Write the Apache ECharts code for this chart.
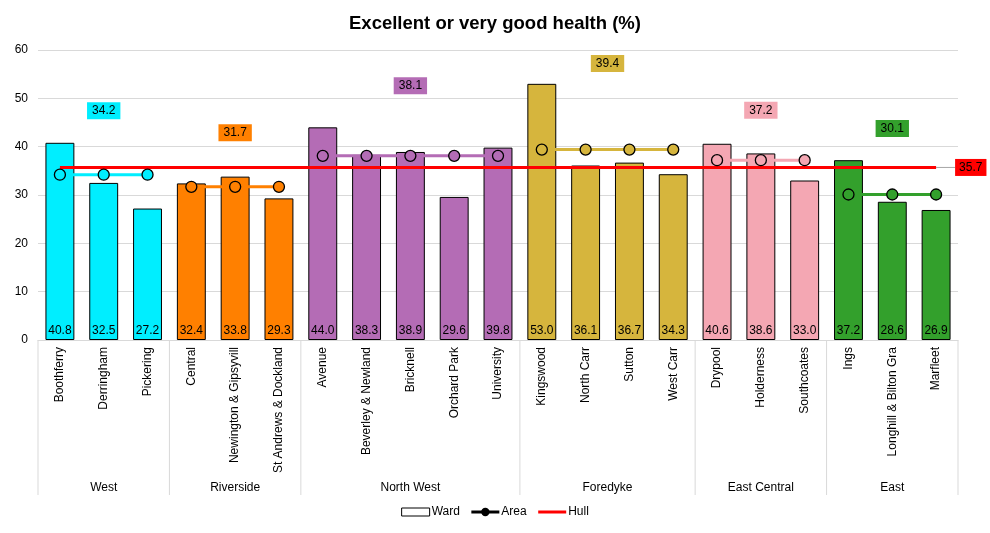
<!DOCTYPE html>
<html>
<head>
<meta charset="utf-8">
<script src="https://cdn.jsdelivr.net/npm/echarts@6/dist/echarts.min.js"></script>
<style>html,body{margin:0;padding:0;background:#fff}#c{width:990px;height:533px}</style>
</head>
<body>
<div id="c"></div>
<script>
// ---- data ----
var wards = ['Boothferry','Derringham','Pickering','Central','Newington & Gipsyvill','St Andrews & Dockland','Avenue','Beverley & Newland','Bricknell','Orchard Park','University','Kingswood','North Carr','Sutton','West Carr','Drypool','Holderness','Southcoates','Ings','Longhill & Bilton Gra','Marfleet'];
var wardValues = [40.8,32.5,27.2,32.4,33.8,29.3,44.0,38.3,38.9,29.6,39.8,53.0,36.1,36.7,34.3,40.6,38.6,33.0,37.2,28.6,26.9];
var areas = ['West','Riverside','North West','Foredyke','East Central','East'];
var areaSizes = [3,3,5,4,3,3];
var areaValues = [34.2,31.7,38.1,39.4,37.2,30.1];
var hullValue = 35.7;
var yTicks = [0,10,20,30,40,50,60];

// ---- styles ----
var areaColors = ['#00EEFF','#FF8000','#B46CB5','#D6B53D','#F4A7B3','#33A02C'];
var areaLabelDy = [-64,-54,-70,-86,-50,-66];
var FONT = '"Liberation Sans", Arial, sans-serif';

var areaStart = [];
(function(){ var s = 0; for (var i = 0; i < areaSizes.length; i++) { areaStart.push(s); s += areaSizes[i]; } })();
var wardArea = [];
areaSizes.forEach(function(n, a){ for (var k = 0; k < n; k++) wardArea.push(a); });

var series = [];
series.push({
  name: 'Ward', type: 'bar', barWidth: '66%', z: 2,
  itemStyle: { color: '#fff', borderColor: '#000', borderWidth: 1 },
  label: { show: true, position: 'insideBottom', distance: 3, color: '#000', fontSize: 12, fontFamily: FONT,
           formatter: function(p){ return p.value.toFixed(1); } },
  data: wardValues.map(function(v, i){ return { value: v, itemStyle: { color: areaColors[wardArea[i]] } }; }),
  animation: false
});
series.push({
  name: 'Hull', type: 'line', z: 4, symbol: 'none',
  lineStyle: { color: '#FF0000', width: 3 }, itemStyle: { color: '#FF0000' },
  data: wards.map(function(){ return hullValue; }),
  endLabel: { show: true, distance: 19, formatter: function(){ return hullValue.toFixed(1); },
              backgroundColor: '#FF0000', color: '#000', fontSize: 12, fontFamily: FONT, padding: [3, 4, 2, 4] },
  animation: false
});
areas.forEach(function(a, ai){
  var d = wards.map(function(w, i){ return wardArea[i] === ai ? areaValues[ai] : null; });
  series.push({
    name: 'Area', type: 'line', z: 5, symbol: 'circle', symbolSize: 11,
    lineStyle: { color: areaColors[ai], width: 3 },
    itemStyle: { color: areaColors[ai], borderColor: '#000', borderWidth: 1.3 },
    data: d, connectNulls: false, animation: false
  });
});
// area value boxes
series.push({
  type: 'custom', z: 6, silent: true, clip: false,
  data: areas.map(function(a, i){ return [areaStart[i], areaValues[i]]; }),
  encode: { x: 0, y: 1 },
  renderItem: function(params, api){
    var i = params.dataIndex;
    var p0 = api.coord([areaStart[i], areaValues[i]]);
    var p1 = api.coord([areaStart[i] + areaSizes[i] - 1, areaValues[i]]);
    return {
      type: 'text',
      style: { text: areaValues[i].toFixed(1), x: (p0[0] + p1[0]) / 2, y: p0[1] + areaLabelDy[i],
               align: 'center', verticalAlign: 'middle', fill: '#000', font: '12px ' + FONT,
               backgroundColor: areaColors[i], padding: [3, 5, 2, 5] }
    };
  },
  animation: false
});
// group axis (areas) + hull leader line
series.push({
  type: 'custom', z: 1, silent: true, clip: false,
  data: areas.map(function(a, i){ return [areaStart[i], 0]; }),
  encode: { x: 0, y: 1 },
  renderItem: function(params, api){
    var i = params.dataIndex;
    var p0 = api.coord([areaStart[i], 0]);
    var p1 = api.coord([areaStart[i] + areaSizes[i] - 1, 0]);
    var bw = api.size([1, 0])[0];
    var left = p0[0] - bw / 2, right = p1[0] + bw / 2, y0 = p0[1];
    var ls = { stroke: '#D9D9D9', lineWidth: 1 };
    var ch = [
      { type: 'line', shape: { x1: left, y1: y0, x2: left, y2: y0 + 155 }, style: ls },
      { type: 'text', style: { text: areas[i], x: (left + right) / 2, y: y0 + 148, align: 'center', verticalAlign: 'middle',
                               fill: '#000', font: '12px ' + FONT } }
    ];
    if (i === areas.length - 1) {
      ch.push({ type: 'line', shape: { x1: right, y1: y0, x2: right, y2: y0 + 155 }, style: ls });
      var h = api.coord([wards.length - 1, hullValue]);
      ch.push({ type: 'line', shape: { x1: h[0], y1: h[1], x2: h[0] + 19, y2: h[1] }, style: { stroke: '#A6A6A6', lineWidth: 1 } });
    }
    return { type: 'group', children: ch };
  },
  animation: false
});

var chart = echarts.init(document.getElementById('c'), null, { renderer: 'canvas' });
chart.setOption({
  animation: false,
  textStyle: { fontFamily: FONT },
  title: { text: 'Excellent or very good health (%)', left: 'center', top: 9,
           textStyle: { fontSize: 18.5, fontWeight: 'bold', color: '#000', fontFamily: FONT } },
  grid: { left: 38, right: 32, top: 50, bottom: 193, containLabel: false },
  legend: {
    bottom: 10, left: 'center', itemWidth: 28, itemHeight: 8, itemGap: 10,
    textStyle: { fontSize: 12, color: '#000', fontFamily: FONT, padding: [0, 0, 0, -3] },
    data: [
      { name: 'Ward', icon: 'rect', itemStyle: { color: '#fff', borderColor: '#000', borderWidth: 1 } },
      { name: 'Area', itemStyle: { color: '#000', borderColor: '#000' }, lineStyle: { color: '#000', width: 3 } },
      { name: 'Hull', itemStyle: { opacity: 0 }, lineStyle: { color: '#FF0000', width: 3, opacity: 1 } }
    ]
  },
  xAxis: {
    type: 'category', data: wards,
    axisLine: { lineStyle: { color: '#D9D9D9' } },
    axisTick: { show: false },
    axisLabel: { interval: 0, rotate: 90, color: '#000', fontSize: 12, fontFamily: FONT, margin: 7 }
  },
  yAxis: {
    type: 'value', min: 0, max: 60, interval: 10,
    axisLine: { show: false }, axisTick: { show: false },
    splitLine: { lineStyle: { color: '#D9D9D9' } },
    axisLabel: { color: '#000', fontSize: 12, fontFamily: FONT, margin: 10,
                 formatter: function(v){ return yTicks.indexOf(v) >= 0 ? String(v) : ''; } }
  },
  series: series
});
</script>
</body>
</html>
